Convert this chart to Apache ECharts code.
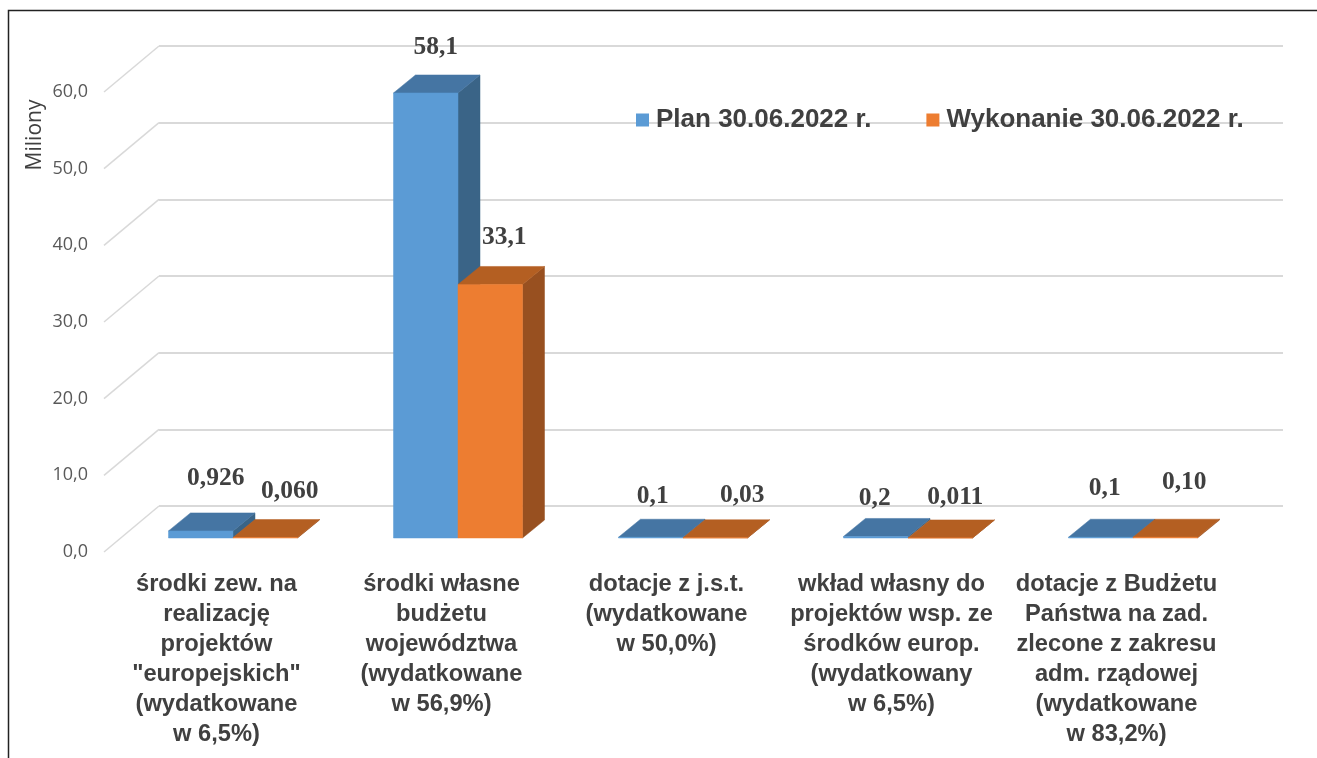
<!DOCTYPE html>
<html>
<head>
<meta charset="utf-8">
<style>html,body{margin:0;padding:0;background:#fff}#c{width:1317px;height:758px}</style>
<script src="https://cdn.jsdelivr.net/npm/echarts@6/dist/echarts.min.js"></script>
</head>
<body>
<div id="c"></div>
<script>
const categories = [
  'środki zew. na\nrealizację\nprojektów\n"europejskich"\n(wydatkowane\nw 6,5%)',
  'środki własne\nbudżetu\nwojewództwa\n(wydatkowane\nw 56,9%)',
  'dotacje z j.s.t.\n(wydatkowane\nw 50,0%)',
  'wkład własny do\nprojektów wsp. ze\nśrodków europ.\n(wydatkowany\nw 6,5%)',
  'dotacje z Budżetu\nPaństwa na zad.\nzlecone z zakresu\nadm. rządowej\n(wydatkowane\nw 83,2%)'
];
const planName = 'Plan 30.06.2022 r.';
const execName = 'Wykonanie 30.06.2022 r.';
const planValues = [0.926, 58.1, 0.1, 0.2, 0.1];
const execValues = [0.06, 33.1, 0.03, 0.011, 0.1];
const planLabels = ['0,926', '58,1', '0,1', '0,2', '0,1'];
const execLabels = ['0,060', '33,1', '0,03', '0,011', '0,10'];
const wallTicks = [0, 10, 20, 30, 40, 50, 60];

// layout only
const planLabelOffsets = [[15,-53],[10,-45.5],[2,-40.5],[-1,-38.5],[4,-48.5]];
const execLabelOffsets = [[24.5,-46.5],[14,-47.5],[27,-42.5],[15,-40.5],[19,-54.5]];
const depthX = 22, depthY = 18, wallX = 55, wallY = 46;

function barSeries(name, values, labels, offsets, side, colors) {
  return {
    name, type: 'custom', xAxisIndex: 2, yAxisIndex: 2, clip: false, z: 5,
    itemStyle: { color: colors.front },
    encode: { x: 0, y: 1 },
    data: values.map((v, i) => [i, v]),
    renderItem(params, api) {
      const i = api.value(0), v = api.value(1);
      const top = api.coord([i, v]), base = api.coord([i, 0]);
      const w = api.size([1, 0])[0] * 0.2867;
      const x0 = side < 0 ? top[0] - w : top[0], x1 = x0 + w;
      const poly = (pts, c) => ({
        type: 'polygon', shape: { points: pts },
        style: { fill: c, stroke: c, lineWidth: 0.5 }
      });
      const off = offsets[i];
      return { type: 'group', children: [
        poly([[x1, base[1]], [x1 + depthX, base[1] - depthY], [x1 + depthX, top[1] - depthY], [x1, top[1]]], colors.side),
        poly([[x0, top[1]], [x0 + depthX, top[1] - depthY], [x1 + depthX, top[1] - depthY], [x1, top[1]]], colors.top),
        poly([[x0, base[1]], [x1, base[1]], [x1, top[1]], [x0, top[1]]], colors.front),
        { type: 'text', z2: 50, style: {
            x: (x0 + x1) / 2 + off[0], y: top[1] + off[1], text: labels[i],
            align: 'center', verticalAlign: 'middle',
            font: 'bold 25.5px "Liberation Serif"', fill: '#404040' } }
      ]};
    }
  };
}

const chart = echarts.init(document.getElementById('c'), null, { renderer: 'canvas' });
const hiddenX = g => ({ type: 'category', gridIndex: g, data: categories, show: false });
chart.setOption({
  animation: false,
  backgroundColor: '#fff',
  grid: [
    { left: 159, top: 46, width: 1124, height: 460 },
    { left: 104, top: 92, width: 1125, height: 460 },
    { left: 120.5, top: 78.4, width: 1125, height: 459.6 }
  ],
  xAxis: [
    hiddenX(0),
    { type: 'category', gridIndex: 1, data: categories,
      axisLine: { show: false }, axisTick: { show: false },
      axisLabel: { interval: 0, margin: 17, color: '#404040',
        fontFamily: 'Liberation Sans', fontWeight: 'bold', fontSize: 23.7, lineHeight: 30.1, align: 'center' } },
    hiddenX(2)
  ],
  yAxis: [
    { type: 'value', gridIndex: 0, min: 0, max: 60, interval: 10,
      axisLabel: { show: false }, axisLine: { show: false }, axisTick: { show: false },
      splitLine: { show: true, lineStyle: { color: '#D9D9D9', width: 2 } } },
    { type: 'value', gridIndex: 1, min: 0, max: 60, interval: 10,
      axisLine: { show: false }, axisTick: { show: false }, splitLine: { show: false },
      axisLabel: { margin: 16, color: '#595959', fontFamily: 'Open Sans', fontSize: 18, padding: [2, 0, 0, 0],
        formatter: v => v.toFixed(1).replace('.', ',') } },
    { type: 'value', gridIndex: 2, min: 0, max: 60, interval: 10, show: false }
  ],
  legend: {
    data: [planName, execName], left: 631, top: 102, orient: 'horizontal',
    itemWidth: 13, itemHeight: 13, itemGap: 55,
    icon: 'rect',
    textStyle: { fontFamily: 'Liberation Sans', fontWeight: 'bold', fontSize: 26, color: '#404040', padding: [0, 0, 0, 2] }
  },
  graphic: [
    { type: 'polyline', silent: true, z: 100,
      shape: { points: [[8.5, 758], [8.5, 10.5], [1317, 10.5]] },
      style: { stroke: '#222', lineWidth: 1.5, fill: 'none' } },
    { type: 'text', silent: true, z: 100, x: 35, y: 135, rotation: Math.PI / 2,
      style: { text: 'Miliony', font: '21px "Open Sans"', fill: '#404040', align: 'center', verticalAlign: 'middle' } }
  ],
  series: [
    { type: 'custom', name: 'wall', xAxisIndex: 1, yAxisIndex: 1, clip: false, z: 1, silent: true,
      encode: { y: 0 }, data: wallTicks.map(v => [v]),
      renderItem(params, api) {
        const y = api.coord([0, api.value(0)])[1], x = params.coordSys.x;
        return { type: 'line', shape: { x1: x, y1: y, x2: x + wallX, y2: y - wallY },
          style: { stroke: '#D9D9D9', lineWidth: 1.5 } };
      } },
    barSeries(planName, planValues, planLabels, planLabelOffsets, -1, { front: '#5B9BD5', top: '#4575A3', side: '#3A6487' }),
    barSeries(execName, execValues, execLabels, execLabelOffsets, 1, { front: '#ED7D31', top: '#B45F22', side: '#985020' })
  ]
});
</script>
</body>
</html>
